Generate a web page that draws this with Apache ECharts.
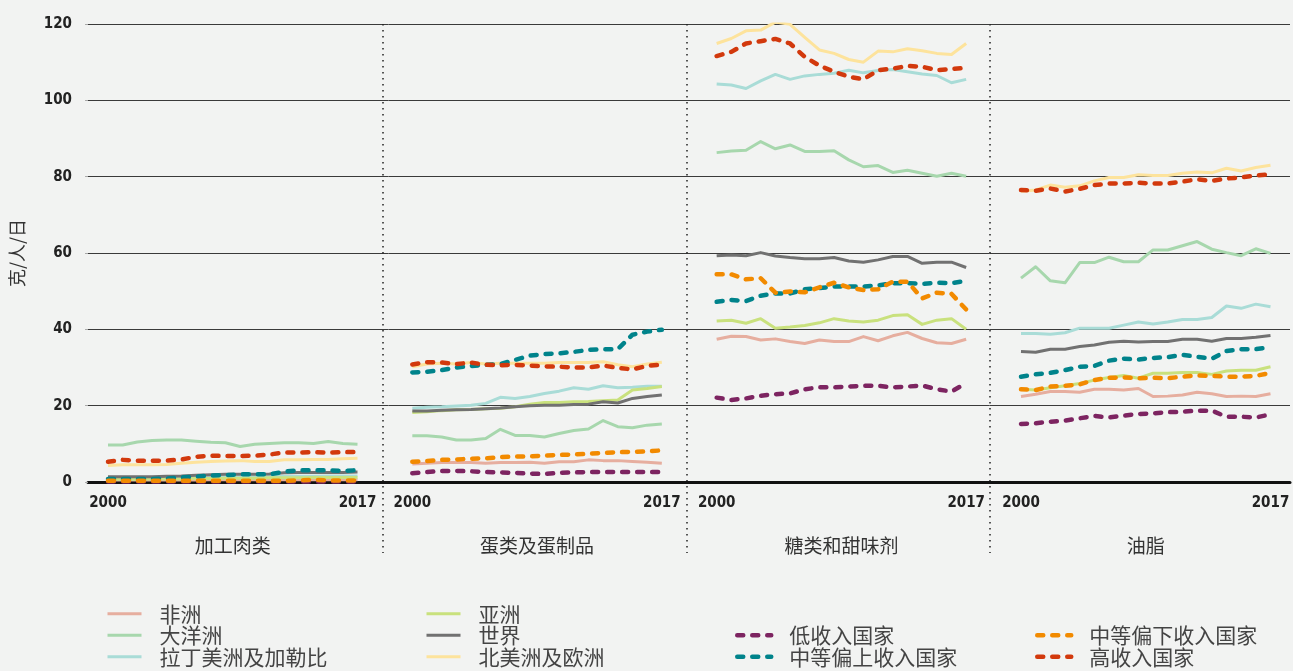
<!DOCTYPE html>
<html>
<head>
    <meta charset="UTF-8" />
    <title>克/人/日</title>
    <script src="https://cdn.jsdelivr.net/npm/echarts@6/dist/echarts.min.js"></script>
    <style>
        html, body { margin: 0; padding: 0; background: #f2f3f2; }
        #main { width: 1293px; height: 671px; }
    </style>
</head>
<body>
    <div id="main"></div>
    <script>
    // 年份和食物类别
    var years = ['2000', '2001', '2002', '2003', '2004', '2005', '2006', '2007', '2008',
        '2009', '2010', '2011', '2012', '2013', '2014', '2015', '2016', '2017'];
    var panels = ['加工肉类', '蛋类及蛋制品', '糖类和甜味剂', '油脂'];

    // 每个数组: [加工肉类, 蛋类及蛋制品, 糖类和甜味剂, 油脂]
    var africa = [
        [0.5, 0.5, 0.5, 0.5, 0.5, 0.5, 0.5, 0.6, 0.6, 0.6, 0.6, 0.6, 0.6, 0.6, 0.6, 0.6, 0.6, 0.6],
        [4.7, 4.9, 5.1, 5.1, 5.1, 4.9, 5.1, 5.1, 5.2, 4.9, 5.3, 5.3, 5.8, 5.6, 5.6, 5.4, 5.2, 4.9],
        [37.4, 38.2, 38.1, 37.2, 37.5, 36.8, 36.3, 37.2, 36.8, 36.8, 38.1, 37.0, 38.3, 39.2, 37.6, 36.5, 36.3, 37.4],
        [22.4, 23.0, 23.7, 23.7, 23.5, 24.3, 24.3, 24.1, 24.5, 22.4, 22.5, 22.8, 23.5, 23.1, 22.4, 22.5, 22.4, 23.1]
    ];
    var oceania = [
        [9.7, 9.7, 10.5, 10.9, 11.0, 11.0, 10.7, 10.4, 10.3, 9.3, 9.9, 10.1, 10.3, 10.3, 10.1, 10.6, 10.1, 9.9],
        [12.1, 12.1, 11.8, 11.0, 11.0, 11.4, 13.8, 12.2, 12.2, 11.8, 12.7, 13.5, 13.9, 16.1, 14.5, 14.2, 14.9, 15.2],
        [86.3, 86.7, 86.9, 89.2, 87.3, 88.3, 86.6, 86.6, 86.8, 84.4, 82.6, 82.9, 81.1, 81.7, 80.9, 80.1, 80.9, 80.1],
        [53.4, 56.4, 52.7, 52.2, 57.5, 57.5, 58.9, 57.7, 57.7, 60.8, 60.8, 61.9, 63.0, 61.0, 60.1, 59.3, 61.1, 59.9]
    ];
    var latam = [
        [0.8, 0.8, 0.8, 0.9, 0.9, 1.0, 1.1, 1.2, 1.3, 1.3, 1.3, 1.4, 1.5, 1.5, 1.5, 1.6, 1.6, 1.6],
        [19.3, 19.6, 19.7, 19.9, 20.1, 20.6, 22.2, 21.9, 22.4, 23.2, 23.8, 24.7, 24.3, 25.2, 24.7, 24.8, 25.1, 25.1],
        [104.3, 104.0, 103.1, 105.1, 106.8, 105.5, 106.4, 106.8, 107.1, 107.9, 107.2, 107.8, 108.1, 107.5, 106.9, 106.5, 104.6, 105.5],
        [38.9, 38.9, 38.7, 39.1, 40.3, 40.3, 40.3, 41.1, 41.9, 41.4, 41.9, 42.6, 42.6, 43.1, 46.1, 45.5, 46.6, 45.9]
    ];
    var asia = [
        [0.7, 0.7, 0.7, 0.8, 0.8, 0.8, 0.9, 0.9, 1.0, 1.0, 1.0, 1.1, 1.1, 1.1, 1.2, 1.2, 1.2, 1.2],
        [18.2, 18.4, 18.7, 18.9, 19.0, 19.2, 19.3, 19.7, 20.4, 20.8, 20.8, 21.0, 21.1, 21.3, 21.5, 24.1, 24.5, 25.0],
        [42.2, 42.4, 41.6, 42.8, 40.3, 40.6, 41.0, 41.7, 42.8, 42.2, 41.9, 42.4, 43.6, 43.8, 41.3, 42.4, 42.8, 40.0],
        [24.3, 24.1, 24.7, 25.2, 25.8, 26.7, 27.4, 27.9, 27.2, 28.5, 28.5, 28.7, 28.7, 28.2, 29.1, 29.3, 29.3, 30.2]
    ];
    var world = [
        [1.4, 1.4, 1.4, 1.4, 1.5, 1.6, 1.8, 1.9, 2.0, 2.0, 2.0, 2.1, 2.4, 2.5, 2.5, 2.5, 2.5, 2.6],
        [18.6, 18.6, 18.8, 18.9, 19.0, 19.2, 19.4, 19.7, 20.0, 20.1, 20.1, 20.3, 20.4, 21.0, 20.7, 21.9, 22.4, 22.8],
        [59.3, 59.5, 59.3, 60.1, 59.2, 58.8, 58.5, 58.5, 58.8, 57.9, 57.6, 58.2, 59.1, 59.1, 57.3, 57.6, 57.6, 56.2],
        [34.2, 34.0, 34.8, 34.8, 35.5, 35.9, 36.6, 36.9, 36.7, 36.8, 36.8, 37.4, 37.4, 36.9, 37.6, 37.6, 37.9, 38.4]
    ];
    var namerica = [
        [4.3, 4.5, 4.5, 4.5, 4.6, 4.9, 5.2, 5.4, 5.5, 5.6, 5.4, 5.4, 5.8, 5.8, 5.9, 5.9, 6.1, 6.2],
        [30.2, 30.9, 31.1, 30.9, 31.3, 30.9, 31.1, 31.1, 31.1, 31.1, 31.3, 31.3, 31.3, 31.5, 30.7, 30.2, 30.9, 31.4],
        [114.9, 116.2, 118.2, 118.4, 120.5, 119.9, 116.5, 113.2, 112.3, 110.7, 110.0, 112.9, 112.7, 113.5, 113.0, 112.3, 112.0, 114.9],
        [76.2, 76.5, 77.8, 77.2, 77.6, 78.9, 79.8, 79.8, 80.5, 80.3, 80.3, 80.9, 81.2, 81.0, 82.2, 81.5, 82.4, 83.0]
    ];
    var lowIncome = [
        [0.1, 0.1, 0.1, 0.1, 0.1, 0.1, 0.1, 0.1, 0.1, 0.1, 0.1, 0.1, 0.1, 0.1, 0.1, 0.1, 0.1, 0.1],
        [2.3, 2.6, 2.9, 2.9, 2.8, 2.6, 2.5, 2.4, 2.2, 2.1, 2.4, 2.5, 2.6, 2.6, 2.6, 2.6, 2.6, 2.6],
        [22.1, 21.5, 21.9, 22.6, 23.0, 23.2, 24.3, 24.8, 24.8, 25.0, 25.2, 25.2, 24.8, 25.0, 25.3, 24.3, 23.7, 25.9],
        [15.2, 15.4, 15.8, 16.1, 16.7, 17.3, 16.9, 17.4, 17.8, 18.0, 18.3, 18.4, 18.7, 18.7, 17.1, 17.1, 16.9, 17.7]
    ];
    var upperMid = [
        [0.8, 0.8, 0.8, 0.8, 0.9, 1.2, 1.4, 1.7, 1.8, 2.0, 2.0, 2.0, 2.7, 3.1, 3.1, 3.1, 2.9, 3.1],
        [28.7, 28.9, 29.3, 30.0, 30.4, 30.7, 30.9, 32.0, 33.1, 33.5, 33.7, 34.1, 34.6, 34.8, 34.8, 38.6, 39.4, 39.9],
        [47.2, 47.7, 47.4, 48.8, 49.4, 49.4, 50.5, 50.8, 51.2, 51.2, 51.2, 51.5, 52.1, 52.1, 51.9, 52.2, 52.1, 52.7],
        [27.6, 28.2, 28.6, 29.3, 30.2, 30.4, 31.8, 32.3, 32.1, 32.5, 32.7, 33.3, 32.8, 32.3, 34.3, 34.8, 34.8, 35.3]
    ];
    var lowerMid = [
        [0.3, 0.3, 0.3, 0.3, 0.3, 0.3, 0.3, 0.3, 0.3, 0.3, 0.3, 0.3, 0.3, 0.4, 0.6, 0.4, 0.4, 0.4],
        [5.3, 5.5, 5.8, 5.9, 6.1, 6.2, 6.5, 6.7, 6.7, 6.9, 7.1, 7.2, 7.4, 7.6, 7.8, 7.9, 8.0, 8.3],
        [54.4, 54.4, 53.1, 53.4, 49.6, 49.9, 49.7, 51.0, 52.2, 51.0, 50.3, 50.5, 52.5, 52.5, 48.1, 49.6, 49.3, 45.2],
        [24.3, 24.1, 25.0, 25.2, 25.6, 26.7, 27.3, 27.4, 27.2, 27.3, 27.2, 27.6, 27.9, 27.8, 27.6, 27.6, 27.8, 28.6]
    ];
    var highIncome = [
        [5.3, 5.8, 5.6, 5.6, 5.6, 5.9, 6.6, 6.9, 6.8, 6.8, 6.9, 7.2, 7.7, 7.7, 7.8, 7.7, 7.8, 7.9],
        [30.8, 31.4, 31.3, 30.9, 31.3, 30.7, 30.6, 30.7, 30.5, 30.3, 30.2, 30.0, 30.0, 30.5, 29.9, 29.5, 30.4, 30.8],
        [111.6, 112.7, 114.9, 115.5, 116.1, 114.9, 111.4, 109.1, 107.5, 106.2, 105.5, 107.9, 108.3, 109.0, 108.8, 107.9, 108.2, 108.5],
        [76.5, 76.3, 76.9, 76.1, 76.8, 77.8, 78.2, 78.2, 78.4, 78.2, 78.2, 78.7, 79.3, 78.9, 79.5, 79.8, 80.3, 80.6]
    ];

    var solidLines = [
        { name: '非洲', color: '#e6ae9f', data: africa },
        { name: '大洋洲', color: '#a7d7ad', data: oceania },
        { name: '拉丁美洲及加勒比', color: '#a9dcd7', data: latam },
        { name: '亚洲', color: '#c9e17d', data: asia },
        { name: '世界', color: '#717171', data: world },
        { name: '北美洲及欧洲', color: '#fde39c', data: namerica }
    ];
    var dottedLines = [
        { name: '低收入国家', color: '#7d2461', data: lowIncome },
        { name: '中等偏上收入国家', color: '#00838b', data: upperMid },
        { name: '中等偏下收入国家', color: '#f28a00', data: lowerMid },
        { name: '高收入国家', color: '#d2390d', data: highIncome }
    ];

    var numFont = "'DejaVu Sans Condensed', 'Liberation Sans Narrow', sans-serif";
    var cjkFont = "'Noto Sans CJK SC', sans-serif";

    var grids = [
        { left: 88, right: 3, top: 24, bottom: 189 },            // 背景网格
        { left: 79.5, width: 1218, top: 24, bottom: 118 }        // 分隔虚线
    ];
    var xAxes = [
        {
            gridIndex: 0, type: 'value', min: 0, max: 1,
            axisLine: { show: true, lineStyle: { color: '#111', width: 3 } },
            axisTick: { show: false }, axisLabel: { show: false }, splitLine: { show: false }
        },
        {
            gridIndex: 1, type: 'category', data: panels, boundaryGap: true,
            axisLine: { show: false }, axisTick: { show: false }, axisLabel: { show: false },
            splitLine: {
                show: true, showMinLine: false, showMaxLine: false,
                lineStyle: { color: '#222', width: 1.5, type: [1.5, 4.5] }
            }
        }
    ];
    var yAxes = [
        {
            gridIndex: 0, type: 'value', min: 0, max: 120, interval: 20,
            name: '克/人/日', nameLocation: 'middle', nameGap: 62,
            nameTextStyle: { fontFamily: cjkFont, fontSize: 18, color: '#333' },
            axisLine: { show: false },
            axisTick: { show: true, length: 3, lineStyle: { color: '#aaa' } },
            axisLabel: { fontFamily: numFont, fontWeight: 'bold', fontSize: 15, color: '#222', margin: 16 },
            splitLine: { lineStyle: { color: '#3a3a3a', width: 1 } }
        },
        { gridIndex: 1, type: 'value', show: false, min: 0, max: 1 }
    ];

    var series = [];
    for (var p = 0; p < panels.length; p++) {
        var gi = p + 2;
        grids.push({ left: 108 + p * 304.33, width: 249.5, top: 24, bottom: 189 });
        xAxes.push({
            gridIndex: gi, type: 'category', data: years, boundaryGap: false,
            axisLine: { show: false }, axisTick: { show: false }, splitLine: { show: false },
            axisLabel: {
                interval: function(idx) { return idx === 0 || idx === years.length - 1; },
                fontFamily: numFont, fontWeight: 'bold', fontSize: 15, color: '#222', margin: 14
            },
            name: panels[p], nameLocation: 'middle', nameGap: 54,
            nameTextStyle: { fontFamily: cjkFont, fontSize: 19, color: '#333' }
        });
        yAxes.push({ gridIndex: gi, type: 'value', min: 0, max: 120, show: false });

        solidLines.forEach(function(s) {
            series.push({
                name: s.name, type: 'line', xAxisIndex: gi, yAxisIndex: gi,
                data: s.data[p], symbol: 'none', color: s.color,
                lineStyle: { width: 3, color: s.color, join: 'round' }
            });
        });
        dottedLines.forEach(function(s) {
            series.push({
                name: s.name, type: 'line', xAxisIndex: gi, yAxisIndex: gi,
                data: s.data[p], symbol: 'none', color: s.color,
                lineStyle: { width: 4.5, color: s.color, type: [6, 9], cap: 'round', join: 'round' }
            });
        });
    }

    function makeLegend(left, top, names, width) {
        return {
            left: left, top: top, orient: 'vertical', data: names,
            padding: 0, height: 70,
            itemWidth: 34, itemHeight: 14, itemGap: 0, selectedMode: false,
            lineStyle: { width: width },
            itemStyle: { opacity: 0, borderWidth: 0 },
            textStyle: {
                fontFamily: cjkFont, fontSize: 21, lineHeight: 21.5, color: '#444',
                padding: [0, 0, 0, 13]
            }
        };
    }

    var myChart = echarts.init(document.getElementById('main'));
    myChart.setOption({
        backgroundColor: '#f2f3f2',
        animation: false,
        grid: grids,
        xAxis: xAxes,
        yAxis: yAxes,
        legend: [
            makeLegend(106, 603, ['非洲', '大洋洲', '拉丁美洲及加勒比'], 3),
            makeLegend(425, 603, ['亚洲', '世界', '北美洲及欧洲'], 3),
            makeLegend(735, 624.5, ['低收入国家', '中等偏上收入国家'], 4.5),
            makeLegend(1035, 624.5, ['中等偏下收入国家', '高收入国家'], 4.5)
        ],
        series: series
    });
    </script>
</body>
</html>
